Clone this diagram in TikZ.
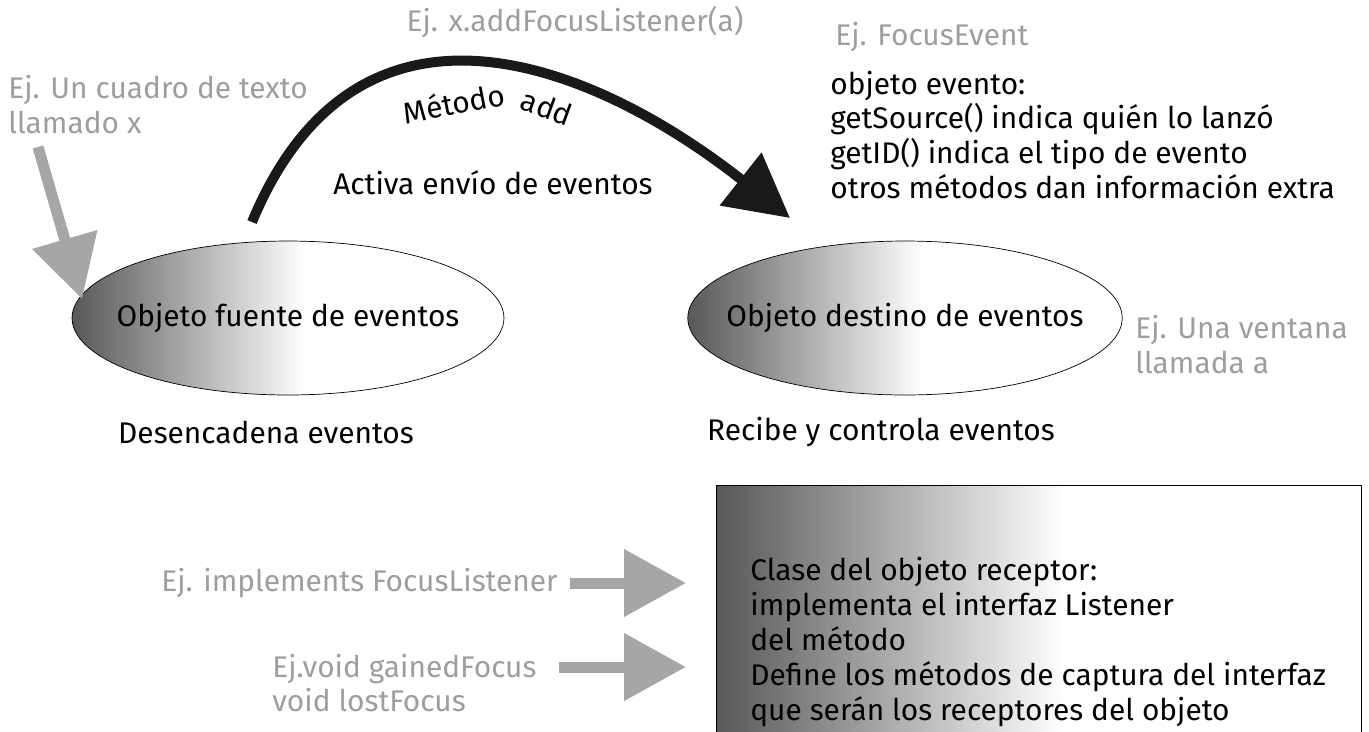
\documentclass[tikz,border=0pt]{standalone}
\usepackage{fontspec}
\setmainfont{Fira Sans}
\usetikzlibrary{arrows.meta,calc,shapes.geometric}
\definecolor{hintgray}{RGB}{158,158,158}
\definecolor{arrowgray}{RGB}{166,166,166}
\definecolor{shadedark}{RGB}{88,88,88}
\pgfdeclarehorizontalshading{objshade}{100bp}{color(0bp)=(shadedark); color(25bp)=(shadedark); color(52bp)=(white); color(100bp)=(white)}
\tikzset{
	lbl/.style={font=\fontsize{17}{19.9}\selectfont, inner sep=0pt, align=left},
	hint/.style={lbl, text=hintgray},
	obj/.style={ellipse, draw, thin, shade, shading=objshade, minimum width=8.64cm, minimum height=3.08cm, lbl, inner xsep=-0.5cm},
	hintarrow/.style={draw=arrowgray, line width=0.22cm, -{Triangle[length=1.24cm, width=1.3cm]}},
	addarrow/.style={draw=black!90, line width=0.2cm, -{Triangle[length=1.26cm, width=1.3cm]}}
}

\begin{document}
\begin{tikzpicture}[x=0.02cm, y=-0.02cm]
	\clip (0,0) rectangle (1369,731);
	
	\node[obj] (src) at (288,318) {Objeto fuente de eventos};
	\node[obj] (dst) at (905,318) {Objeto destino de eventos};
	\node[lbl] (srcrole) at (266,432) {Desencadena eventos};
	\node[lbl] (dstrole) at (881,432) {Recibe y controla eventos};
	
	\node[hint, anchor=west] (srcex) at (8,105) {Ej. Un cuadro de texto\\llamado x};
	\node[hint, anchor=west] (dstex) at (1135,345) {Ej. Una ventana\\llamada a};
	\node[hint] (addex) at (575,22) {Ej. x.addFocusListener(a)};
	\node[hint, anchor=west] (evex) at (835,37) {Ej. FocusEvent};
	\node[lbl, anchor=west] (ev) at (830,135) {objeto evento:\\getSource() indica quién lo lanzó\\getID() indica el tipo de evento\\otros métodos dan información extra};
	\node[lbl] (activa) at (493,183) {Activa envío de eventos};
	
	\node[draw, thin, shade, shading=objshade, anchor=north west, minimum width=12.9cm, minimum height=5.3cm] (recv) at (716,485) {};
	\node[lbl, anchor=west] (recvtext) at (750,642) {Clase del objeto receptor:\\implementa el interfaz Listener\\del método\\Define los métodos de captura del interfaz\\que serán los receptores del objeto};
	\node[hint, anchor=east] (impl) at (558,583) {Ej. implements FocusListener};
	\node[hint, anchor=west] (meth) at (272,683) {Ej.void gainedFocus\\void lostFocus};
	
	\coordinate (hintsrc) at (38,147);
	\coordinate (srctouch) at (82,299);
	\draw[hintarrow] (hintsrc) -- (srctouch);
	
	\coordinate (addstart) at (252,222);
	\coordinate (addend) at (790,218);
	\draw[addarrow] (addstart) .. controls (360,-38) and (600,68) .. (addend);
	\node[lbl, rotate=11] (addname) at (454,103) {Método};
	\node[lbl, rotate=-20] (addword) at (547,107) {add};
	
	\coordinate (impltail) at ($(impl.east)+(12,0)$);
	\coordinate (methtail) at ($(meth.east)+(22,-16)$);
	\draw[hintarrow] (impltail) -- ($(recv.west |- impltail)+(-30,0)$);
	\draw[hintarrow] (methtail) -- ($(recv.west |- methtail)+(-30,0)$);
\end{tikzpicture}
\end{document}
